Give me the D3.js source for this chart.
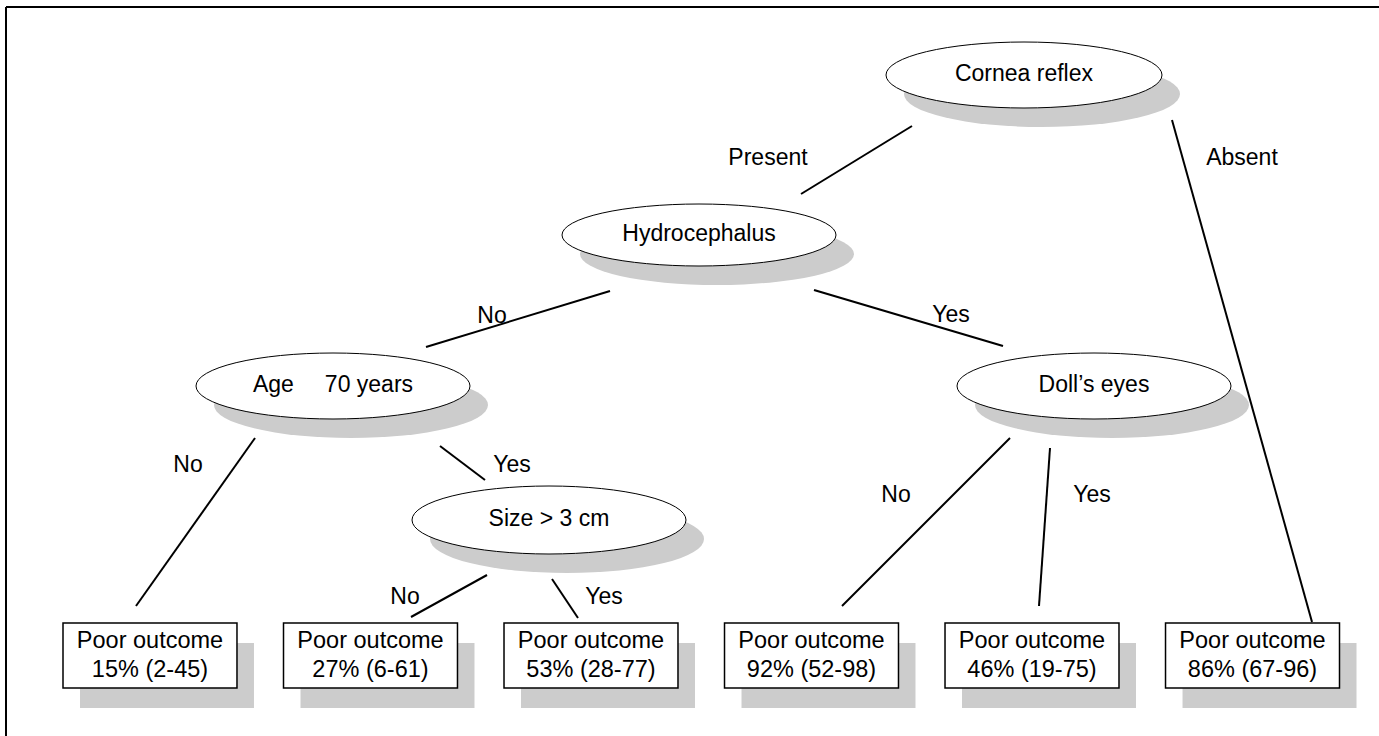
<!DOCTYPE html>
<html>
<head>
<meta charset="utf-8">
<script src="https://cdn.jsdelivr.net/npm/d3@7"></script>
<style>
html,body{margin:0;padding:0;background:#fff;}
svg{display:block;}
text{font-family:"Liberation Sans",Arial,Helvetica,sans-serif;fill:#000;}
</style>
</head>
<body>
<svg id="chart" width="1379" height="736"></svg>
<script>
// ---- data ----
const nodeIds = ["cornea", "hydro", "age", "doll", "size"];
const nodeLabels = ["Cornea reflex", "Hydrocephalus", ["Age", "70 years"], "Doll\u2019s eyes", "Size > 3 cm"];
const leafIds = ["leaf1", "leaf2", "leaf3", "leaf4", "leaf5", "leaf6"];
const leafTitle = "Poor outcome";
const leafPct = [15, 27, 53, 92, 46, 86];
const leafLow = [2, 6, 28, 52, 19, 67];
const leafHigh = [45, 61, 77, 98, 75, 96];
const edgeFrom = ["cornea", "cornea", "hydro", "hydro", "age", "age", "size", "size", "doll", "doll"];
const edgeTo = ["hydro", "leaf6", "age", "doll", "leaf1", "size", "leaf2", "leaf3", "leaf4", "leaf5"];
const edgeLabels = ["Present", "Absent", "No", "Yes", "No", "Yes", "No", "Yes", "No", "Yes"];

// ---- layout (diagram geometry) ----
const W = 1379, H = 736;
const svg = d3.select("#chart");

const levelY = d3.scaleOrdinal().domain([0, 1, 2, 3, 4]).range([75, 235, 386, 520, 623]);
const nodeLayout = {
  cornea: {x: 1024, level: 0, rx: 138, ry: 33},
  hydro:  {x: 699,  level: 1, rx: 137, ry: 31},
  age:    {x: 333,  level: 2, rx: 137, ry: 33},
  doll:   {x: 1094, level: 2, rx: 137, ry: 33},
  size:   {x: 549,  level: 3, rx: 137, ry: 34}
};
const leafX = d3.scaleBand().domain(leafIds).range([63, 1339.5]).paddingInner(0.211).paddingOuter(0);
const boxH = 65;

// edge endpoints: [startX, startY, endX, endY], label position [x, y]
const edgeGeom = {
  "cornea-hydro": {p: [912, 126, 801, 194], l: [768, 157]},
  "cornea-leaf6": {p: [1172, 120, 1312, 622], l: [1242, 157]},
  "hydro-age":    {p: [610, 291, 426, 347], l: [492, 315]},
  "hydro-doll":   {p: [814, 290, 1003, 346], l: [951, 314]},
  "age-leaf1":    {p: [255, 438, 136, 606], l: [188, 464]},
  "age-size":     {p: [440, 446, 485, 480], l: [512, 464]},
  "size-leaf2":   {p: [487, 575, 411, 617], l: [405, 596]},
  "size-leaf3":   {p: [552, 579, 578, 618], l: [604, 596]},
  "doll-leaf4":   {p: [1010, 438, 842, 606], l: [896, 494]},
  "doll-leaf5":   {p: [1050, 448, 1039, 606], l: [1092, 494]}
};

// frame (top and left edges)
svg.append("line").attr("x1", 6).attr("y1", 7).attr("x2", W).attr("y2", 7)
  .attr("stroke", "#000").attr("stroke-width", 2);
svg.append("line").attr("x1", 6).attr("y1", 7).attr("x2", 6).attr("y2", H)
  .attr("stroke", "#000").attr("stroke-width", 2);

// edges
const edges = edgeFrom.map((f, i) => ({from: f, to: edgeTo[i], label: edgeLabels[i], g: edgeGeom[f + "-" + edgeTo[i]]}));
svg.append("g").selectAll("line").data(edges).join("line")
  .attr("x1", d => d.g.p[0]).attr("y1", d => d.g.p[1])
  .attr("x2", d => d.g.p[2]).attr("y2", d => d.g.p[3])
  .attr("stroke", "#000").attr("stroke-width", 2);
svg.append("g").selectAll("text").data(edges).join("text")
  .attr("x", d => d.g.l[0]).attr("y", d => d.g.l[1])
  .attr("text-anchor", "middle").attr("dominant-baseline", "central")
  .style("font-size", "23px")
  .text(d => d.label);

// decision nodes
const nodes = nodeIds.map((id, i) => ({id, label: nodeLabels[i], ...nodeLayout[id], y: levelY(nodeLayout[id].level)}));
const ng = svg.append("g").selectAll("g").data(nodes).join("g");
ng.append("ellipse")
  .attr("cx", d => d.x + 18).attr("cy", d => d.y + 19)
  .attr("rx", d => d.rx).attr("ry", d => d.ry)
  .attr("fill", "#cccccc");
ng.append("ellipse")
  .attr("cx", d => d.x).attr("cy", d => d.y)
  .attr("rx", d => d.rx).attr("ry", d => d.ry)
  .attr("fill", "#fff").attr("stroke", "#000").attr("stroke-width", 1);
ng.each(function(d) {
  const t = d3.select(this).append("text")
    .attr("x", d.x).attr("y", d.y + 6)
    .attr("text-anchor", "middle")
    .style("font-size", "23px");
  if (Array.isArray(d.label)) {
    t.append("tspan").text(d.label[0]);
    t.append("tspan").attr("dx", 31).text(d.label[1]);
  } else {
    t.text(d.label);
  }
});

// leaves
const leaves = leafIds.map((id, i) => ({id, pct: leafPct[i], lo: leafLow[i], hi: leafHigh[i]}));
const lg = svg.append("g").selectAll("g").data(leaves).join("g");
const boxY = levelY(4);
lg.append("rect")
  .attr("x", d => leafX(d.id) + 17).attr("y", boxY + 20)
  .attr("width", leafX.bandwidth()).attr("height", boxH)
  .attr("fill", "#cccccc");
lg.append("rect")
  .attr("x", d => leafX(d.id)).attr("y", boxY)
  .attr("width", leafX.bandwidth()).attr("height", boxH)
  .attr("fill", "#fff").attr("stroke", "#000").attr("stroke-width", 1.5);
lg.append("text")
  .attr("x", d => leafX(d.id) + leafX.bandwidth() / 2).attr("y", boxY + 25)
  .attr("text-anchor", "middle").style("font-size", "23.5px")
  .text(leafTitle);
lg.append("text")
  .attr("x", d => leafX(d.id) + leafX.bandwidth() / 2).attr("y", boxY + 54)
  .attr("text-anchor", "middle").style("font-size", "23.5px")
  .text(d => `${d.pct}% (${d.lo}-${d.hi})`);
</script>
</body>
</html>
